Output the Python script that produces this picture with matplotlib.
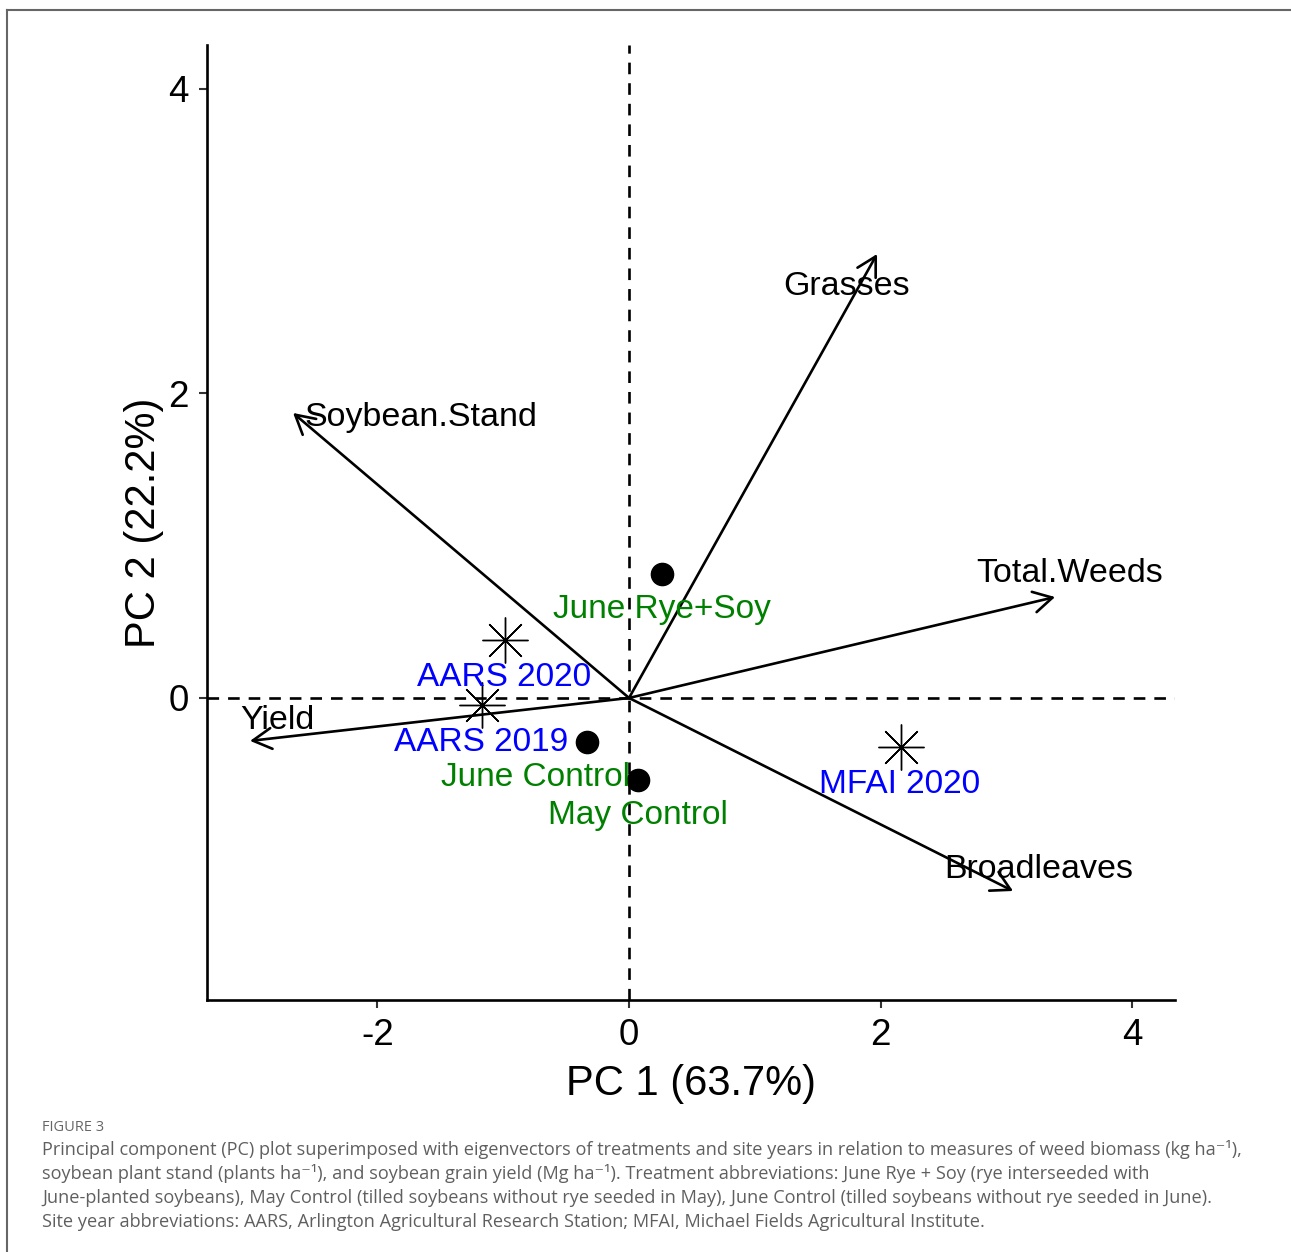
import matplotlib
matplotlib.use("Agg")
import matplotlib.pyplot as plt
from matplotlib.lines import Line2D

plt.rcParams['font.family'] = ['Liberation Sans', 'DejaVu Sans']
plt.rcParams['axes.unicode_minus'] = False

# treatments (filled circles) and site years (asterisks): PC1, PC2 scores
treatments = ["June Rye+Soy", "June Control", "May Control"]
treat_pc1 = [0.262, -0.334, 0.072]
treat_pc2 = [0.814, -0.289, -0.539]

sites = ["AARS 2020", "AARS 2019", "MFAI 2020"]
site_pc1 = [-0.985, -1.168, 2.162]
site_pc2 = [0.381, -0.046, -0.322]

# eigenvectors (arrow tips) and where their labels sit
variables = ["Soybean.Stand", "Grasses", "Total.Weeds", "Broadleaves", "Yield"]
var_pc1 = [-2.670, 1.971, 3.386, 3.052, -3.012]
var_pc2 = [1.872, 2.916, 0.663, -1.268, -0.282]
var_lab_pc1 = [-1.653, 1.732, 3.505, 3.258, -2.797]
var_lab_pc2 = [1.787, 2.647, 0.762, -1.182, -0.204]

xticks = [-2, 0, 2, 4]
yticks = [0, 2, 4]

caption_title = "FIGURE 3"
caption_lines = [
    "Principal component (PC) plot superimposed with eigenvectors of treatments and site years in relation to measures of weed biomass (kg ha\u207b\u00b9),",
    "soybean plant stand (plants ha\u207b\u00b9), and soybean grain yield (Mg ha\u207b\u00b9). Treatment abbreviations: June Rye + Soy (rye interseeded with",
    "June-planted soybeans), May Control (tilled soybeans without rye seeded in May), June Control (tilled soybeans without rye seeded in June).",
    "Site year abbreviations: AARS, Arlington Agricultural Research Station; MFAI, Michael Fields Agricultural Institute.",
]

W, H = 1291, 1252
fig = plt.figure(figsize=(W / 100, H / 100), dpi=100)
ax = fig.add_axes([207 / W, 1 - 1000 / H, 968 / W, 955 / H])

ax.set_xlim(-3.354, 4.339)
ax.set_ylim(-1.984, 4.289)

ax.axhline(0, color="black", lw=1.9, ls=(0, (4.4, 3.4)), zorder=1)
ax.axvline(0, color="black", lw=1.9, ls=(0, (4.4, 3.4)), zorder=1)

# eigenvector arrows
for name, x, y, lx, ly in zip(variables, var_pc1, var_pc2, var_lab_pc1, var_lab_pc2):
    ax.annotate("", xy=(x, y), xytext=(0, 0),
                arrowprops=dict(arrowstyle="->,head_length=0.45,head_width=0.25",
                                mutation_scale=30, lw=1.9, color="black",
                                shrinkA=0, shrinkB=0), zorder=2)
    ax.text(lx, ly, name, fontsize=24.5, ha="center", va="baseline", color="black", zorder=4)

# treatments
ax.scatter(treat_pc1, treat_pc2, s=16 ** 2, color="black", zorder=3)
treat_dx = [0, -37, 0]
for name, x, y, dx in zip(treatments, treat_pc1, treat_pc2, treat_dx):
    ax.annotate(name, xy=(x, y), xytext=(dx, -32), textcoords="offset points",
                fontsize=24, ha="center", va="baseline", color="#008000", zorder=4)

# site years
ax.plot(site_pc1, site_pc2, ls="none", marker=(8, 2, 0), markersize=33,
        markeredgewidth=1.0, color="black", zorder=3)
for name, x, y in zip(sites, site_pc1, site_pc2):
    ax.annotate(name, xy=(x, y), xytext=(-1, -33), textcoords="offset points",
                fontsize=24, ha="center", va="baseline", color="blue", zorder=4)

ax.set_xticks(xticks)
ax.set_yticks(yticks)
ax.tick_params(labelsize=26.5, length=6, width=1.5, color="#333333", pad=7)
for side in ["top", "right"]:
    ax.spines[side].set_visible(False)
for side in ["left", "bottom"]:
    ax.spines[side].set_linewidth(1.9)
ax.set_xlabel("PC 1 (63.7%)", fontsize=30, labelpad=8)
ax.set_ylabel("PC 2 (22.2%)", fontsize=30, labelpad=3)

# frame around the figure panel
fig.add_artist(Line2D([7 / W, 1], [1 - 10 / H] * 2, color="#666666", lw=1.5))
fig.add_artist(Line2D([7 / W] * 2, [0, 1 - 10 / H], color="#666666", lw=1.5))

cap_font = ['Open Sans', 'DejaVu Sans']
fig.text(42 / W, 1 - 1131 / H, caption_title, fontsize=10.5, color="#666666",
         family=cap_font, va="baseline")
for i, line in enumerate(caption_lines):
    fig.text(42 / W, 1 - (1155 + 24 * i) / H, line, fontsize=13.1, color="#5f5f5f",
             family=cap_font, va="baseline")

fig.savefig("out.png", dpi=100)
